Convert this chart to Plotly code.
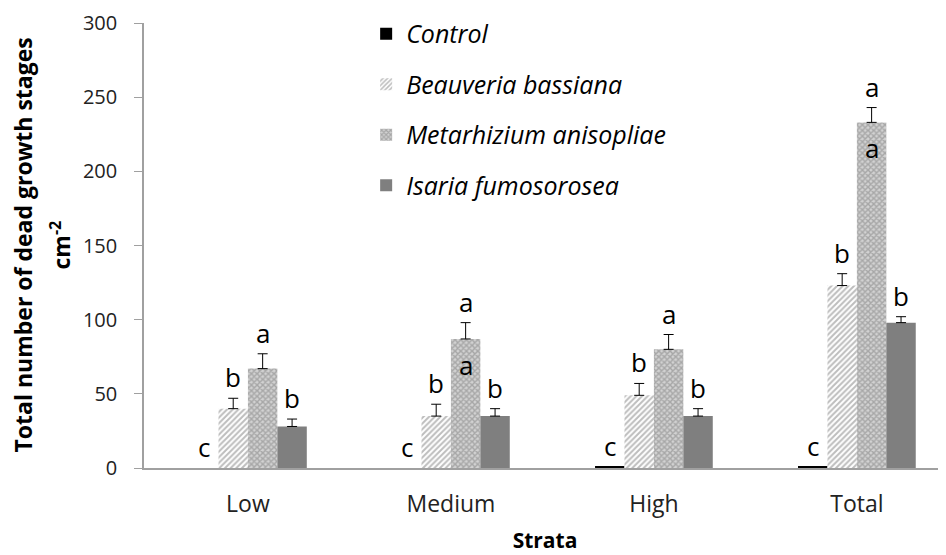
import plotly.graph_objects as go

categories = ["Low", "Medium", "High", "Total"]
series_names = ["Control", "Beauveria bassiana", "Metarhizium anisopliae", "Isaria fumosorosea"]
control = [0, 0, 1, 1]
beauveria = [40, 35, 49, 123]
metarhizium = [67, 87, 80, 233]
isaria = [28, 35, 35, 98]
control_err = [0, 0, 0, 0]
beauveria_err = [7, 8, 8, 8]
metarhizium_err = [10, 11, 10, 10]
isaria_err = [5, 5, 5, 4]
control_letters = ["c", "c", "c", "c"]
beauveria_letters = ["b", "b", "b", "b"]
metarhizium_letters = ["a", "a", "a", "a"]
isaria_letters = ["b", "b", "b", "b"]
metarhizium_inner = ["", "a", "", "a"]
y_title_lines = ["<b>Total number of dead growth stages</b>", "<b>cm<sup>-2</sup></b>"]

FONT = "Open Sans"
xs = list(range(len(categories)))
values = [control, beauveria, metarhizium, isaria]
errs = [control_err, beauveria_err, metarhizium_err, isaria_err]
letters = [control_letters, beauveria_letters, metarhizium_letters, isaria_letters]

styles = [
    dict(color="#000000"),
    dict(color="#ffffff", pattern=dict(shape="/", fgcolor="#7c7c7c", bgcolor="#ffffff", size=4, solidity=0.5)),
    dict(color="#c0c0c0", pattern=dict(shape="x", fgcolor="#7c7c7c", bgcolor="#d2d2d2", size=4, solidity=0.6)),
    dict(color="#7f7f7f"),
]

fig = go.Figure()
for i, name in enumerate(series_names):
    show_err = i > 0
    fig.add_trace(go.Bar(
        x=xs, y=values[i], name=name, legendgroup=name,
        marker=dict(line=dict(width=0), **styles[i]),
        error_y=dict(type="data", symmetric=False, array=errs[i], arrayminus=[0] * len(xs),
                     color="#000000", thickness=1, width=5, visible=show_err),
    ))

bargap = 0.42
n = len(series_names)
bw = (1 - bargap) / n
annotations = []
for i in range(n):
    off = -(1 - bargap) / 2 + bw * (i + 0.5)
    for j, x in enumerate(xs):
        annotations.append(dict(
            x=x + off, y=values[i][j] + errs[i][j], xref="x", yref="y",
            text=letters[i][j], showarrow=False, yanchor="bottom", yshift=1,
            font=dict(family=FONT, size=26, color="#000000")))
    if i == 2:
        for j, x in enumerate(xs):
            if metarhizium_inner[j]:
                annotations.append(dict(
                    x=x + off, y=values[i][j], xref="x", yref="y",
                    text=metarhizium_inner[j], showarrow=False, yanchor="top", yshift=-6,
                    font=dict(family=FONT, size=26, color="#000000")))

# y-axis title as two rotated lines (left of the plot area)
plot_w = 946 - 136 - 8
for line, px in zip(y_title_lines, [22, 60]):
    annotations.append(dict(
        x=(px - 144) / plot_w, y=0.5, xref="paper", yref="paper",
        text=line, textangle=-90, showarrow=False, xanchor="center", yanchor="middle",
        font=dict(family=FONT, size=23, color="#000000")))

fig.update_layout(
    width=946, height=555,
    margin=dict(l=136, r=8, t=15, b=95, autoexpand=False),
    paper_bgcolor="white", plot_bgcolor="white",
    barmode="group", bargap=bargap, bargroupgap=0,
    font=dict(family=FONT, color="#000000"),
    showlegend=True,
    legend=dict(x=0.277, y=1.027, xanchor="left", yanchor="top",
                font=dict(family=FONT, size=25, style="italic", color="#000000"),
                tracegroupgap=15, bgcolor="rgba(0,0,0,0)"),
    annotations=annotations,
)
fig.update_xaxes(
    range=[-0.512, 3.439], tickvals=xs, ticktext=categories,
    showline=True, linecolor="#a0a0a0", linewidth=1.5, ticks="", showgrid=False, zeroline=False,
    tickfont=dict(family=FONT, size=23, color="#222222"), ticklabelstandoff=15,
    title=dict(text="<b>Strata</b>", font=dict(family=FONT, size=21), standoff=15),
)
fig.update_yaxes(
    range=[0, 300], tickvals=[0, 50, 100, 150, 200, 250, 300],
    showline=True, linecolor="#a0a0a0", linewidth=1.5, ticks="outside", ticklen=8,
    tickcolor="#a0a0a0", showgrid=False, zeroline=False,
    tickfont=dict(family=FONT, size=20, color="#222222"), ticklabelstandoff=13,
)

fig.write_html("out.html")
